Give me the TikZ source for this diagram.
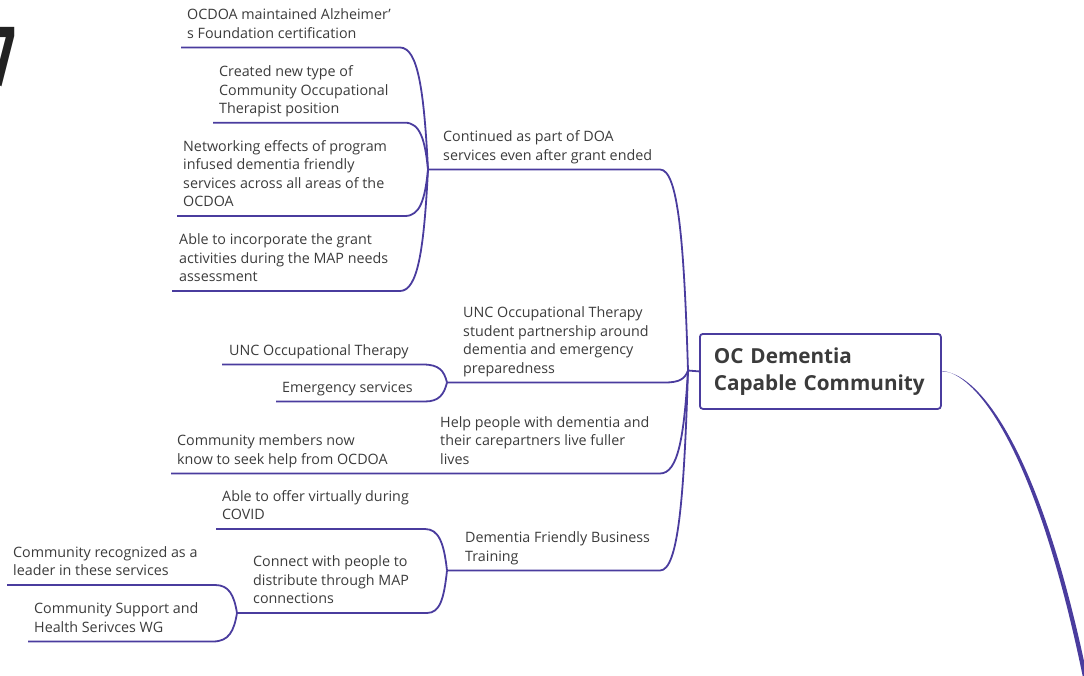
\documentclass[tikz,border=0pt]{standalone}
\usepackage{fontspec}
\setmainfont{Open Sans}
\newfontfamily\sevenfont{Fira Sans}
\definecolor{lc}{HTML}{4A3C9E}
\definecolor{tc}{HTML}{3B3B3B}
\definecolor{sevc}{HTML}{222222}
\tikzset{
  ln/.style={draw=lc, line width=1.8pt},
  topic/.style={anchor=north west, inner sep=0pt, align=left, text=tc,
    font=\fontsize{14.3}{18.5}\selectfont,
    execute at begin node={\rule{0pt}{10.8pt}}},
  rootbox/.style={draw=lc, line width=1.8pt, rounded corners=3pt, anchor=north west,
    minimum width=241pt, minimum height=75pt, inner xsep=14pt, inner ysep=0pt,
    text width=213pt, align=left, text=tc,
    font=\fontsize{20.7}{27.5}\selectfont\bfseries}
}
\begin{document}
\begin{tikzpicture}[x=1pt,y=-1pt]
\useasboundingbox (0,0) rectangle (1084,676);

% big page number fragment
\node[anchor=base east, inner sep=0pt, text=sevc, font=\sevenfont\fontsize{86}{86}\selectfont\bfseries] (seven) at (16,86) {\scalebox{0.6}[1]{7}};

% root
\node[rootbox] (root) at (699,333) {OC Dementia\\Capable Community};

% fork points
\coordinate (R) at (688,370.5);
\coordinate (F1) at (428,169.5);
\coordinate (F2) at (447,382.5);
\coordinate (F3) at (430,473.5);
\coordinate (F4) at (447,570.5);
\coordinate (F5) at (237,613);
\coordinate (tail) at (1090,690);

% underline starts
\coordinate (u11) at (181,47.5);
\coordinate (u12) at (213,122.7);
\coordinate (u13) at (177,216);
\coordinate (u14) at (172,291);
\coordinate (u21) at (222,364.5);
\coordinate (u22) at (276,401.5);
\coordinate (u31) at (171,473.5);
\coordinate (u41) at (216,529);
\coordinate (u51) at (7,585);
\coordinate (u52) at (28,641.5);

% texts
\node[topic] (t11) at (187,8.7) {OCDOA maintained Alzheimer'\\s Foundation certification};
\node[topic] (t12) at (219,65.4) {Created new type of\\Community Occupational\\Therapist position};
\node[topic] (t13) at (183,140.2) {Networking effects of program\\infused dementia friendly\\services across all areas of the\\OCDOA};
\node[topic] (t14) at (179,233.7) {Able to incorporate the grant\\activities during the MAP needs\\assessment};
\node[topic] (b1) at (443,130.7) {Continued as part of DOA\\services even after grant ended};
\node[topic] (b2) at (463,306.7) {UNC Occupational Therapy\\student partnership around\\dementia and emergency\\preparedness};
\node[topic] (t21) at (229,344.2) {UNC Occupational Therapy};
\node[topic] (t22) at (282,381.2) {Emergency services};
\node[topic] (b3) at (440,416.2) {Help people with dementia and\\their carepartners live fuller\\lives};
\node[topic] (t31) at (177,434.7) {Community members now\\know to seek help from OCDOA};
\node[topic] (b4) at (465,531.7) {Dementia Friendly Business\\Training};
\node[topic] (t41) at (222,490.2) {Able to offer virtually during\\COVID};
\node[topic] (t42) at (253,555.7) {Connect with people to\\distribute through MAP\\connections};
\node[topic] (t51) at (13,546.2) {Community recognized as a\\leader in these services};
\node[topic] (t52) at (34,602.7) {Community Support and\\Health Serivces WG};

% connectors
\draw[ln] (R) -- (root.west);
\draw[ln] (F1) -- ++(232,0) .. controls +(18,0) and +(-4,-130) .. (R);
\draw[ln] (F2) -- ++(218,0) .. controls +(15,0) and +(-3,8) .. (R);
\draw[ln] (u31) -- (F3) -- ++(230,0) .. controls +(18,0) and +(-4,67) .. (R);
\draw[ln] (F4) -- ++(213,0) .. controls +(18,0) and +(-4,130) .. (R);

\draw[ln] (u11) -- ++(219,0) .. controls +(18,0) and +(-4,-79) .. (F1);
\draw[ln] (u12) -- ++(192,0) .. controls +(15,0) and +(-3,-30) .. (F1);
\draw[ln] (u13) -- ++(228,0) .. controls +(15,0) and +(-3,30) .. (F1);
\draw[ln] (u14) -- ++(228,0) .. controls +(18,0) and +(-4,79) .. (F1);

\draw[ln] (u21) -- ++(201,0) .. controls +(16,0) and +(-3,-12) .. (F2);
\draw[ln] (u22) -- ++(149,0) .. controls +(14,0) and +(-3,12) .. (F2);

\draw[ln] (u41) -- ++(209,0) .. controls +(14,0) and +(-3,-27) .. (F4);
\draw[ln] (F5) -- ++(190,0) .. controls +(13,0) and +(-3,28) .. (F4);

\draw[ln] (u51) -- ++(208,0) .. controls +(14,0) and +(-3,-18) .. (F5);
\draw[ln] (u52) -- ++(185,0) .. controls +(16,0) and +(-3,18) .. (F5);

% tapered curve leaving the root
\fill[lc] (root.east) .. controls (975,371.5) and (1040,440) .. (tail)
  -- ++(-4.5,0) .. controls (1036,441) and (973,372) .. ([yshift=0.4pt]root.east) -- cycle;
\end{tikzpicture}
\end{document}
